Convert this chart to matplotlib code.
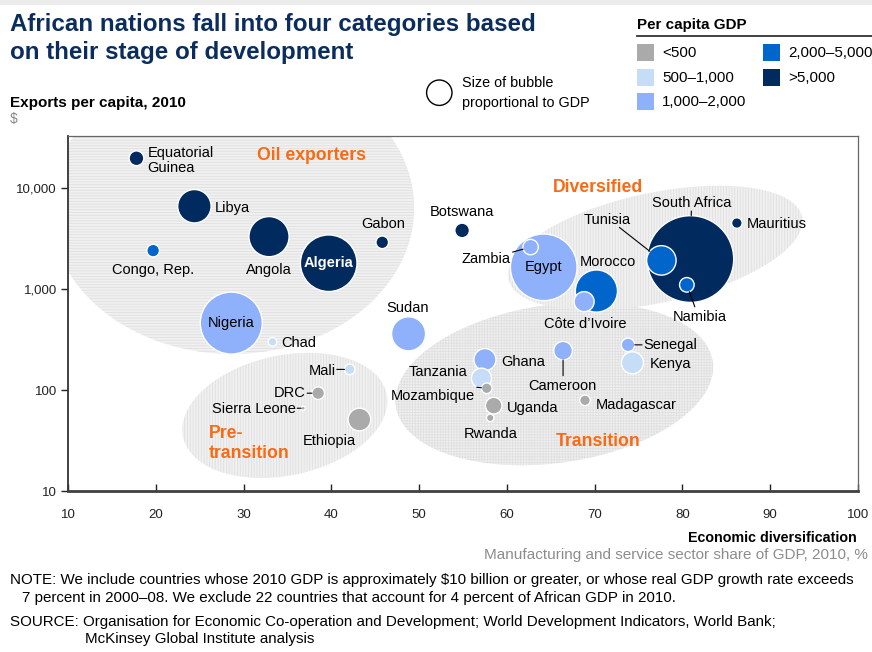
import numpy as np
import matplotlib
matplotlib.use("Agg")
import matplotlib.pyplot as plt
import matplotlib.patches as mpatches
from matplotlib.ticker import FixedLocator, FuncFormatter, NullLocator

plt.rcParams['font.family'] = ['Liberation Sans', 'DejaVu Sans']
plt.rcParams['hatch.linewidth'] = 0.6

# --- data ---
countries = ["Equatorial Guinea", "Libya", "Angola", "Algeria", "Gabon", "Congo, Rep.",
             "Nigeria", "Chad", "Sudan", "Botswana", "Egypt", "Zambia", "Morocco",
             "Côte d’Ivoire", "South Africa", "Tunisia", "Namibia", "Mauritius",
             "Senegal", "Kenya", "Cameroon", "Ghana", "Tanzania", "Mozambique",
             "Uganda", "Rwanda", "Madagascar", "Mali", "DRC", "Sierra Leone", "Ethiopia"]
diversification = [17.8, 24.4, 32.9, 39.7, 45.8, 19.7,
                   28.6, 33.3, 48.8, 54.9, 64.2, 62.7, 70.2,
                   68.8, 80.9, 77.6, 80.5, 86.2,
                   73.8, 74.3, 66.4, 57.5, 57.1, 57.7,
                   58.5, 58.1, 68.9, 42.1, 38.5, 36.8, 43.2]
exports_pc = [19700, 6600, 3300, 1800, 2900, 2400,
              460, 300, 360, 3800, 1640, 2600, 955,
              750, 1980, 1920, 1100, 4500,
              280, 186, 245, 200, 131, 104,
              70, 53, 79, 160, 93, 66, 51]
gdp_bn = [10.5, 54, 78, 155, 7.7, 7.7,
          186, 3.6, 56, 10.3, 215, 11.5, 86,
          19.4, 364, 42, 10.3, 5.4,
          8.7, 23.5, 16.8, 23.5, 19.4, 5.4,
          13.4, 2.7, 5.4, 5.4, 7.7, 0.8, 24.8]
gdp_class = [">5,000", ">5,000", ">5,000", ">5,000", ">5,000", "2,000–5,000",
             "1,000–2,000", "500–1,000", "1,000–2,000", ">5,000", "1,000–2,000", "1,000–2,000", "2,000–5,000",
             "1,000–2,000", ">5,000", "2,000–5,000", "2,000–5,000", ">5,000",
             "1,000–2,000", "500–1,000", "1,000–2,000", "1,000–2,000", "500–1,000", "<500",
             "<500", "<500", "<500", "500–1,000", "<500", "<500", "<500"]

class_names = ["<500", "500–1,000", "1,000–2,000", "2,000–5,000", ">5,000"]
class_colors = ["#aaaaaa", "#c6ddf8", "#8fb0fa", "#0066cc", "#012a5e"]
color_of = dict(zip(class_names, class_colors))

NAVY = "#0b2d5e"
ORANGE = "#fa6a12"

# label layout: offset (pixels) from bubble centre, alignment
label_pos = {
    "Equatorial Guinea": (11, -2, "left", "Equatorial\nGuinea"),
    "Libya": (20, -2, "left", None),
    "Angola": (0, -33, "center", None),
    "Gabon": (1, 18, "center", None),
    "Congo, Rep.": (0, -19, "center", None),
    "Chad": (9, -1, "left", None),
    "Sudan": (-1, 26, "center", None),
    "Botswana": (0, 18, "center", None),
    "Zambia": (-20, -12, "right", None),
    "Morocco": (11, 29, "center", None),
    "Côte d’Ivoire": (1, -22, "center", None),
    "South Africa": (1, 56, "center", None),
    "Tunisia": (-54, 40, "center", None),
    "Namibia": (13, -32, "center", None),
    "Mauritius": (10, -1, "left", None),
    "Senegal": (15, 0, "left", None),
    "Kenya": (17, -1, "left", None),
    "Ghana": (16, -2, "left", None),
    "Cameroon": (-1, -35, "center", None),
    "Tanzania": (-14, 6, "right", None),
    "Mozambique": (-12, -8, "right", None),
    "Uganda": (13, -2, "left", None),
    "Rwanda": (0, -16, "center", None),
    "Madagascar": (11, -5, "left", None),
    "Mali": (-14, -2, "right", None),
    "DRC": (-13, 0, "right", None),
    "Sierra Leone": (-7, -1, "right", None),
    "Ethiopia": (-30, -21, "center", None),
}
inside = {"Algeria": ("white", "bold"), "Nigeria": ("black", "normal"), "Egypt": ("black", "normal")}
leaders = {
    "Tunisia": (-42, 33), "Namibia": (8, -22), "South Africa": (1, 48),
    "Zambia": (-18, -5), "Cameroon": (0, -25), "Senegal": (14, 0),
    "Mozambique": (-10, 1), "Mali": (-13, 0), "DRC": (-11, 0), "Sierra Leone": (-6, 0),
}

W, H = 872, 652
fig = plt.figure(figsize=(W / 100, H / 100), dpi=100)


def fx(x):
    return x / W


def fy(y):
    return 1 - y / H


ax = fig.add_axes([fx(68), fy(491), (858 - 68) / W, (491 - 136) / H])
ax.set_xlim(10, 100)
ax.set_yscale("log")
ax.set_ylim(10, 10 ** 4.515)

# category regions
def region(cx, cy, a, b, ang, hatch):
    c = ax.transData.transform((cx, cy))
    t = np.linspace(0, 2 * np.pi, 300)
    th = np.radians(ang)
    u, v = a * np.cos(t), b * np.sin(t)
    pts = np.column_stack([c[0] + u * np.cos(th) - v * np.sin(th),
                           c[1] + u * np.sin(th) + v * np.cos(th)])
    data = ax.transData.inverted().transform(pts)
    ax.add_patch(mpatches.Polygon(data, closed=True, facecolor="#f0f0f0",
                                  edgecolor="#e0e0e0", lw=0, hatch=hatch, zorder=0.5))


region(28.7, 6340, 182, 146, 0, "------")
region(34.7, 56, 104, 60, 12, "||||||")
region(65.4, 115, 160, 79, 8, "++++++")
region(76.9, 2550, 150, 55, 12, "||||||")

# bubbles, biggest first so the small ones sit on top
order = np.argsort(gdp_bn)[::-1]
xs = np.array(diversification)[order]
ys = np.array(exports_pc)[order]
sizes = np.array(gdp_bn)[order] * 10.7
cols = [color_of[gdp_class[i]] for i in order]
ax.scatter(xs, ys, s=sizes, c=cols, edgecolors="white", linewidths=1, zorder=3)

for i, name in enumerate(countries):
    x, y = diversification[i], exports_pc[i]
    r_pt = np.sqrt(gdp_bn[i] * 10.7) / 2
    if name in inside:
        c, w = inside[name]
        ax.text(x, y, name, ha="center", va="center", color=c, fontweight=w,
                fontsize=10.5, zorder=5)
    if name in label_pos:
        dx, dy, ha, txt = label_pos[name]
        ax.annotate(txt or name, xy=(x, y), xytext=(dx, dy), textcoords="offset pixels",
                    ha=ha, va="center", fontsize=10.5, linespacing=1.05, zorder=5)
    if name in leaders:
        ex, ey = leaders[name]
        ax.annotate("", xy=(x, y), xytext=(ex, ey), textcoords="offset pixels",
                    arrowprops=dict(arrowstyle="-", color="black", lw=0.8,
                                    shrinkA=0, shrinkB=r_pt), zorder=4)

# axes styling
ax.xaxis.set_major_locator(FixedLocator(range(10, 101, 10)))
ax.yaxis.set_major_locator(FixedLocator([10, 100, 1000, 10000]))
ax.yaxis.set_minor_locator(NullLocator())
ax.yaxis.set_major_formatter(FuncFormatter(lambda v, p: f"{v:,.0f}"))
ax.tick_params(axis="x", direction="in", length=5, width=1, pad=13, labelsize=9.5, colors="#222")
ax.tick_params(axis="y", direction="out", length=5, width=1, pad=3, labelsize=9.5, colors="#222")
ax.spines["left"].set_color("#333")
ax.spines["left"].set_linewidth(1.3)
ax.spines["bottom"].set_color("#404040")
ax.spines["bottom"].set_linewidth(2)
for s in ("top", "right"):
    ax.spines[s].set_color("#666")
    ax.spines[s].set_linewidth(0.9)

# category names
fig.text(fx(311), fy(156), "Oil exporters", color=ORANGE, fontsize=12.7, fontweight="bold", ha="center", va="center")
fig.text(fx(598), fy(187), "Diversified", color=ORANGE, fontsize=12.7, fontweight="bold", ha="center", va="center")
fig.text(fx(209), fy(433), "Pre-", color=ORANGE, fontsize=12.7, fontweight="bold", ha="left", va="center")
fig.text(fx(209), fy(454), "transition", color=ORANGE, fontsize=12.7, fontweight="bold", ha="left", va="center")
fig.text(fx(598), fy(442), "Transition", color=ORANGE, fontsize=12.7, fontweight="bold", ha="center", va="center")

# header band and title
fig.patches.append(mpatches.Rectangle((0, fy(5)), 1, 5 / H, transform=fig.transFigure,
                                      color="#ebeceb", lw=0))
fig.text(fx(10), fy(24), "African nations fall into four categories based", color=NAVY,
         fontsize=17.4, fontweight="bold", va="center")
fig.text(fx(10), fy(52), "on their stage of development", color=NAVY,
         fontsize=17.4, fontweight="bold", va="center")
fig.text(fx(10), fy(103), "Exports per capita, 2010", fontsize=11, fontweight="bold", va="center")
fig.text(fx(10), fy(119), r"\$", fontsize=10, color="#888", va="center")

# bubble size key
fig.patches.append(mpatches.Ellipse((fx(439.3), fy(92.7)), 2 * 12.7 / W, 2 * 12.7 / H,
                                    transform=fig.transFigure, facecolor="white",
                                    edgecolor="black", lw=1))
fig.text(fx(462), fy(83), "Size of bubble", fontsize=10.4, va="center")
fig.text(fx(462), fy(103), "proportional to GDP", fontsize=10.4, va="center")

# colour key
fig.text(fx(637), fy(25), "Per capita GDP", fontsize=10.9, fontweight="bold", va="center")
fig.add_artist(plt.Line2D([fx(637), 1], [fy(36), fy(36)], color="#333", lw=1.3))
key_xy = [(637, 44), (637, 69), (637, 93), (763, 44), (763, 69)]
for (kx, ky), name, col in zip(key_xy, class_names, class_colors):
    fig.patches.append(mpatches.Rectangle((fx(kx), fy(ky + 17)), 17 / W, 17 / H,
                                          transform=fig.transFigure, color=col, lw=0))
    fig.text(fx(kx + 25), fy(ky + 9), name, fontsize=10.9, va="center")

# axis title
fig.text(fx(857), fy(538), "Economic diversification", fontsize=10.3, fontweight="bold",
         ha="right", va="center")
fig.text(fx(868), fy(555), "Manufacturing and service sector share of GDP, 2010, %",
         fontsize=11, color="#8c8c8c", ha="right", va="center")

# notes
note_fs = 10.9
fig.text(fx(10), fy(580), r"NOTE: We include countries whose 2010 GDP is approximately \$10 billion or greater, or whose real GDP growth rate exceeds",
         fontsize=note_fs, va="center")
fig.text(fx(22), fy(598), "7 percent in 2000–08. We exclude 22 countries that account for 4 percent of African GDP in 2010.",
         fontsize=note_fs, va="center")
fig.text(fx(10), fy(622), "SOURCE: Organisation for Economic Co-operation and Development; World Development Indicators, World Bank;",
         fontsize=note_fs, va="center")
fig.text(fx(85), fy(639), "McKinsey Global Institute analysis", fontsize=note_fs, va="center")

fig.savefig("out.png", dpi=100)
